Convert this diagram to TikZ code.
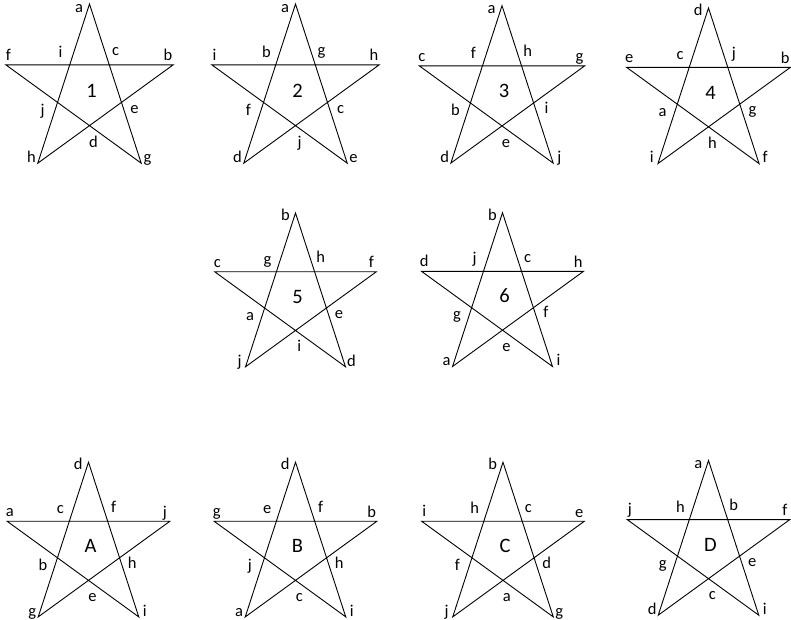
\documentclass[tikz,border=0pt]{standalone}
\usepackage{fontspec}
\setmainfont{Carlito}
\usetikzlibrary{positioning}

\begin{document}
\begin{tikzpicture}[x=1pt,y=-1pt,
  pgline/.style={draw=black,line width=0.9pt,line join=miter},
  pglabel/.style={anchor=base,inner sep=0pt,font=\fontsize{16.5}{18}\selectfont},
  pgcentre/.style={anchor=base,inner sep=0pt,font=\fontsize{20.5}{22}\selectfont}
]
  \useasboundingbox (0,0) rectangle (791,619);

  % Stars: centre x/y, radius, name, outer labels (top, left, right, bottom left, bottom right),
  % inner labels (top left, top right, left, right, bottom)
  \foreach \cx/\cy/\r/\nm/\lblA/\lblB/\lblC/\lblD/\lblE/\lblF/\lblG/\lblH/\lblI/\lblJ in {
    89.5/92/88/1/a/f/b/h/g/i/c/j/e/d,
    295.5/92/88/2/a/i/h/d/e/b/g/f/c/j,
    502/92.7/87/3/a/c/g/d/j/f/h/b/i/e,
    708.5/94/86/4/d/e/b/i/f/c/j/a/g/h,
    295.5/298/85/5/b/c/f/j/d/g/h/a/e/i,
    502.5/297.7/85/6/b/d/h/a/i/j/c/g/f/e,
    88.5/547.7/85.5/A/d/a/j/g/i/c/f/b/h/e,
    295.5/547.7/85.5/B/d/g/b/a/i/e/f/j/h/c,
    503/547.7/85.5/C/b/i/e/j/g/h/c/f/d/a,
    708.5/546/85.5/D/a/j/f/d/i/h/b/g/e/c}
  {
    \begin{scope}[shift={(\cx,\cy)}]
      % Outer points
      \coordinate (s\nm-t) at (-90:\r);
      \coordinate (s\nm-l) at (-162:\r);
      \coordinate (s\nm-r) at (-18:\r);
      \coordinate (s\nm-bl) at (-234:\r);
      \coordinate (s\nm-br) at (-306:\r);
      \draw[pgline] (s\nm-t) -- (s\nm-br) -- (s\nm-l) -- (s\nm-r) -- (s\nm-bl) -- cycle;

      % Name in the middle
      \node[pgcentre] (s\nm-name) at (2,5) {\nm};

      \begin{scope}[scale={\r/88}]
        % Outer labels
        \node[pglabel] (s\nm-lt) at (-10.5,-80) {\lblA};
        \node[pglabel] (s\nm-ll) at (-81,-32) {\lblB};
        \node[pglabel] (s\nm-lr) at (78.5,-31.5) {\lblC};
        \node[pglabel] (s\nm-lbl) at (-58,70.5) {\lblD};
        \node[pglabel] (s\nm-lbr) at (58,70.5) {\lblE};

        % Inner labels
        \node[pglabel] (s\nm-itl) at (-29,-35) {\lblF};
        \node[pglabel] (s\nm-itr) at (26,-36.5) {\lblG};
        \node[pglabel] (s\nm-il) at (-47,23) {\lblH};
        \node[pglabel] (s\nm-ir) at (45,21) {\lblI};
        \node[pglabel] (s\nm-ib) at (4,55.5) {\lblJ};
      \end{scope}
    \end{scope}
  }
\end{tikzpicture}
\end{document}
